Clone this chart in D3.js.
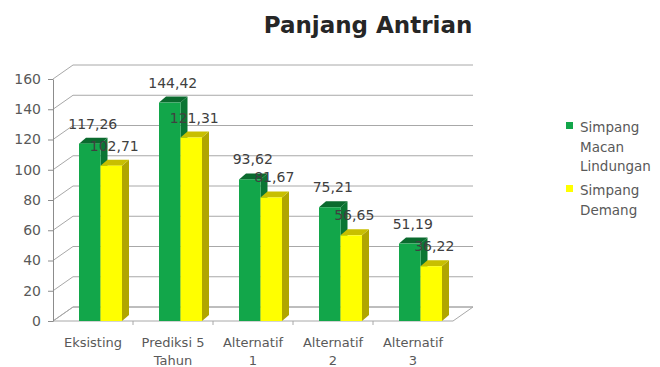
<html>
<head>
  <script src="https://d3js.org/d3.v7.min.js"></script>
  <style>
    body { margin: 0; background: #fff; }
    text { font-family: "DejaVu Sans", sans-serif; }
  </style>
</head>
<body>
  <svg id="chart" width="660" height="367"></svg>
  <script>
    const categories = ["Eksisting", "Prediksi 5 Tahun", "Alternatif 1", "Alternatif 2", "Alternatif 3"];
    const seriesNames = ["Simpang Macan Lindungan", "Simpang Demang"];
    const macanValues = [117.26, 144.42, 93.62, 75.21, 51.19];
    const demangValues = [102.71, 121.31, 81.67, 56.65, 36.22];
    const yTicks = [0, 20, 40, 60, 80, 100, 120, 140, 160];

    const svg = d3.select("svg#chart");

    const colors = {
      "Simpang Macan Lindungan": { front: "#12a64a", side: "#0b7633", top: "#0a6a2e" },
      "Simpang Demang": { front: "#ffff00", side: "#b0a600", top: "#c8bf00" }
    };

    const wall = { dx: 20, dy: -14 };   // depth of the back wall
    const depth = { dx: 7, dy: -6 };    // depth of each bar

    const yScale = d3.scaleLinear().domain([0, 160]).range([321, 79]);
    const xScale = d3.scaleBand().domain(categories).range([53, 453]);
    const inner = d3.scaleBand().domain(seriesNames).range([-14, 29]);

    const table = categories.map((c, i) => ({
      category: c,
      values: [
        { name: seriesNames[0], value: macanValues[i] },
        { name: seriesNames[1], value: demangValues[i] }
      ]
    }));

    const fmt = v => d3.format(".2f")(v).replace(".", ",");

    // title
    svg.append("text")
      .attr("x", 368).attr("y", 33)
      .attr("text-anchor", "middle")
      .attr("font-size", 23).attr("font-weight", "bold")
      .attr("fill", "#262626")
      .text("Panjang Antrian");

    // floor
    const x0 = xScale.range()[0], x1 = xScale.range()[1], yb = yScale(0);
    svg.append("polygon")
      .attr("points", [[x0, yb], [x1, yb], [x1 + wall.dx, yb + wall.dy], [x0 + wall.dx, yb + wall.dy]].join(" "))
      .attr("fill", "none").attr("stroke", "#a8a8a8");

    // gridlines: left wall + back wall
    const grid = svg.append("g").attr("stroke", "#a8a8a8").attr("fill", "none");
    yTicks.forEach(t => {
      const y = yScale(t);
      grid.append("polyline")
        .attr("points", [[x0, y], [x0 + wall.dx, y + wall.dy], [x1 + wall.dx, y + wall.dy]].join(" "));
    });

    // y axis
    const leftAxis = d3.axisLeft(yScale).tickValues(yTicks).tickSize(5).tickSizeOuter(0).tickPadding(7);
    const yAxis = svg.append("g")
      .attr("transform", `translate(${x0},0)`)
      .call(leftAxis);
    yAxis.selectAll("path, line").attr("stroke", "#8c8c8c");
    yAxis.selectAll("text").attr("font-size", 14).attr("fill", "#595959")
      .style("font-family", "'DejaVu Sans', sans-serif");

    // category ticks on the floor front edge
    const bounds = categories.slice(1).map(c => xScale(c));
    svg.selectAll("line.ctick").data(bounds).join("line")
      .attr("x1", d => d).attr("x2", d => d)
      .attr("y1", yb).attr("y2", yb + 4)
      .attr("stroke", "#a8a8a8");

    // category labels
    const catLabels = svg.selectAll("text.cat").data(categories).join("text")
      .attr("class", "cat")
      .attr("text-anchor", "middle")
      .attr("font-size", 13).attr("fill", "#595959")
      .attr("x", d => xScale(d) + xScale.bandwidth() / 2)
      .attr("y", 347);
    catLabels.each(function (d) {
      const k = d.lastIndexOf(" ");
      const lines = k < 0 ? [d] : [d.slice(0, k), d.slice(k + 1)];
      d3.select(this).selectAll("tspan").data(lines).join("tspan")
        .attr("x", xScale(d) + xScale.bandwidth() / 2)
        .attr("dy", (l, i) => i ? 18 : 0)
        .text(l => l);
    });

    // bars
    const bw = inner.bandwidth();
    const groups = svg.selectAll("g.cat").data(table).join("g")
      .attr("class", "cat")
      .attr("transform", d => `translate(${xScale(d.category) + xScale.bandwidth() / 2},0)`);

    groups.each(function (d) {
      const g = d3.select(this);
      d.values.forEach(s => {
        const x = inner(s.name), y = yScale(s.value), c = colors[s.name];
        g.append("polygon")
          .attr("points", [[x + bw, y], [x + bw + depth.dx, y + depth.dy], [x + bw + depth.dx, yb + depth.dy], [x + bw, yb]].join(" "))
          .attr("fill", c.side);
        g.append("polygon")
          .attr("points", [[x, y], [x + depth.dx, y + depth.dy], [x + bw + depth.dx, y + depth.dy], [x + bw, y]].join(" "))
          .attr("fill", c.top);
        g.append("rect")
          .attr("x", x).attr("y", y)
          .attr("width", bw).attr("height", yb - y)
          .attr("fill", c.front);
      });
    });

    // value labels
    groups.each(function (d) {
      const g = d3.select(this);
      d.values.forEach(s => {
        g.append("text")
          .attr("x", inner(s.name) + bw / 2 + 3)
          .attr("y", yScale(s.value) - 15)
          .attr("text-anchor", "middle")
          .attr("font-size", 14).attr("fill", "#404040")
          .text(fmt(s.value));
      });
    });

    // legend
    const legendTop = [122, 185];
    seriesNames.forEach((name, i) => {
      svg.append("rect")
        .attr("x", 566).attr("y", legendTop[i])
        .attr("width", 7).attr("height", 7)
        .attr("fill", colors[name].front);
      const words = name.split(" ");
      svg.append("text")
        .attr("font-size", 13.5).attr("fill", "#595959")
        .selectAll("tspan").data(words).join("tspan")
        .attr("x", 580)
        .attr("y", (w, j) => legendTop[i] + 10 + j * 19.5)
        .text(w => w);
    });
  </script>
</body>
</html>
